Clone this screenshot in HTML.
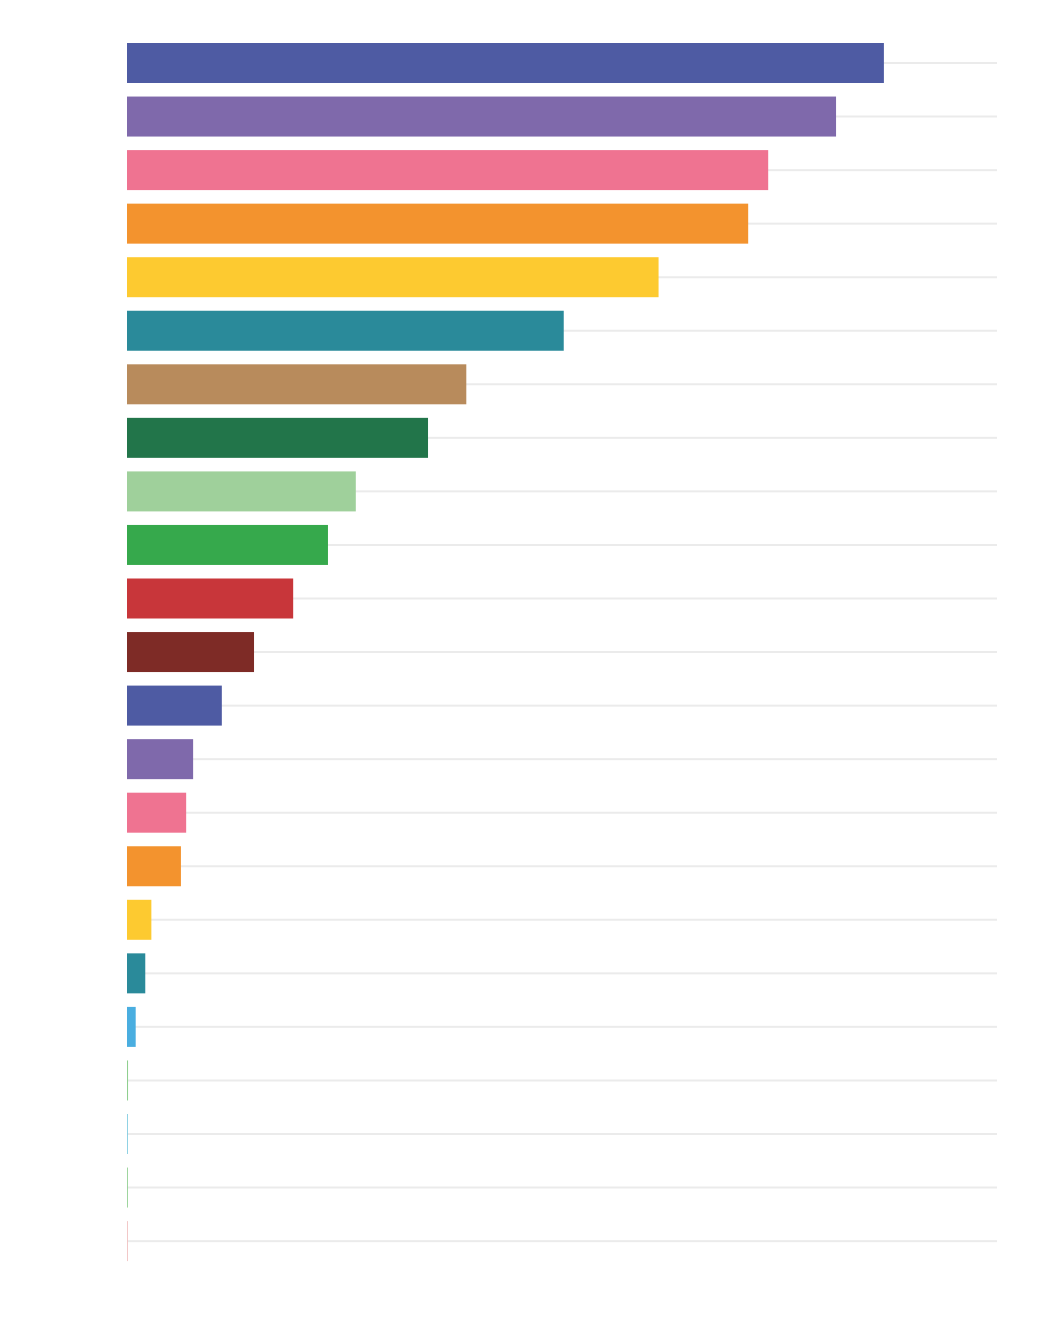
<!DOCTYPE html>
<html><head><meta charset="utf-8"><style>
html,body{margin:0;padding:0;background:#fff;}
svg{display:block;font-family:"Liberation Sans",sans-serif;}
</style></head><body>
<svg id="chart" width="1044" height="1330" viewBox="0 0 1044 1330"></svg>
<script>
const categories = ["c1","c2","c3","c4","c5","c6","c7","c8","c9","c10","c11","c12","c13","c14","c15","c16","c17","c18","c19","c20","c21","c22","c23"];
const values = [87.0,81.5,73.7,71.4,61.1,50.2,39.0,34.6,26.3,23.1,19.1,14.6,10.9,7.6,6.8,6.2,2.8,2.1,1.0,0.12,0.1,0.1,0.1];
const colors = ["#4e5ba3","#7f69ab","#ef7391","#f3932e","#fdca30","#2a8a9a","#b88b5c","#22754a","#9fd09b","#36a94c","#c8363a","#7e2b26","#4e5ba3","#7f69ab","#ef7391","#f3932e","#fdca30","#2a8a9a","#4aaee0","#8fcf8f","#7fcbe0","#8fcf8f","#f0c0c0"];
const xMax = 100;
const x0 = 127, x1 = 997, yTop = 63, step = 53.55, barH = 40;
const xs = v => x0 + (v / xMax) * (x1 - x0);
const yc = i => yTop + i * step;
const svg = document.getElementById('chart');
const NS = 'http://www.w3.org/2000/svg';
categories.forEach((c, i) => {
  const g = document.createElementNS(NS, 'line');
  g.setAttribute('x1', x0); g.setAttribute('x2', x1);
  g.setAttribute('y1', yc(i)); g.setAttribute('y2', yc(i));
  g.setAttribute('stroke', '#ebebeb'); g.setAttribute('stroke-width', '2');
  
  
  svg.appendChild(g);
});
categories.forEach((c, i) => {
  const r = document.createElementNS(NS, 'rect');
  r.setAttribute('x', x0);
  r.setAttribute('y', yc(i) - barH / 2);
  r.setAttribute('width', Math.max(xs(values[i]) - x0, 0.8));
  r.setAttribute('height', barH);
  r.setAttribute('fill', colors[i]);
  
  
  svg.appendChild(r);
});
</script>
</body></html>
